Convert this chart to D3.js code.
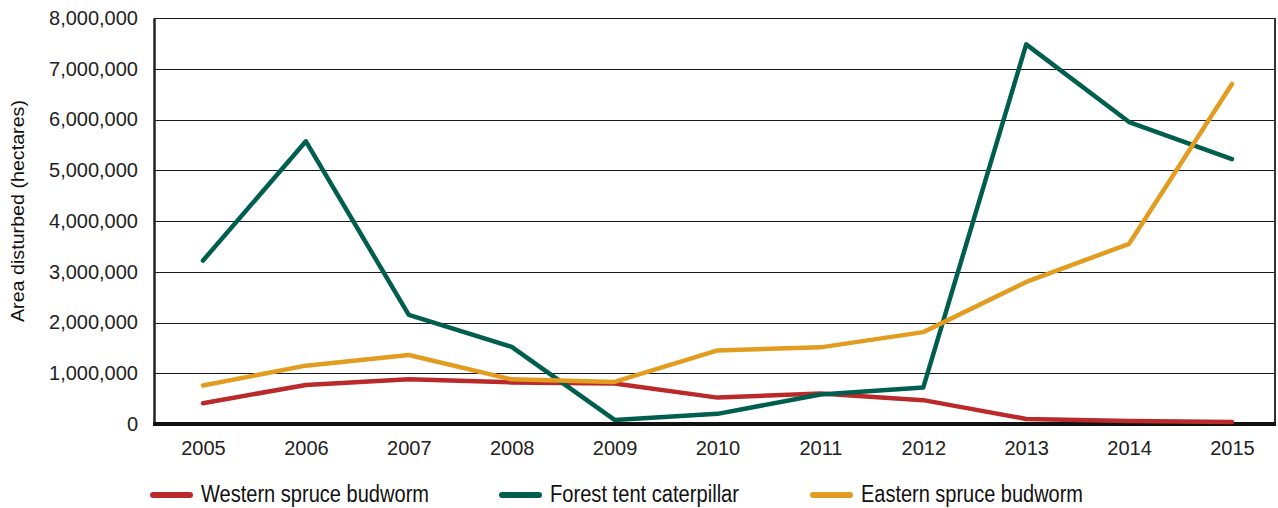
<!DOCTYPE html>
<html>
<head>
<meta charset="utf-8">
<script src="https://cdn.jsdelivr.net/npm/d3@7"></script>
<style>
  body { margin: 0; background: #fff; }
  svg { display: block; }
  .tick text { font-family: "Liberation Sans", Arial, sans-serif; fill: #222; }
  .narrow { font-family: "Liberation Sans Narrow", "Liberation Sans", Arial, sans-serif; }
</style>
</head>
<body>
<script>
var width = 1278
var height = 508

var years = ['2005', '2006', '2007', '2008', '2009', '2010', '2011', '2012', '2013', '2014', '2015']
var western = [410000, 770000, 880000, 820000, 800000, 520000, 600000, 470000, 100000, 60000, 40000]
var forestTent = [3220000, 5570000, 2150000, 1520000, 80000, 200000, 580000, 720000, 7480000, 5950000, 5220000]
var eastern = [760000, 1150000, 1360000, 880000, 830000, 1450000, 1510000, 1810000, 2800000, 3550000, 6700000]
var yTicks = [0, 1000000, 2000000, 3000000, 4000000, 5000000, 6000000, 7000000, 8000000]

var seriesNames = ['Western spruce budworm', 'Forest tent caterpillar', 'Eastern spruce budworm']
var seriesColors = ['#bb2a2b', '#005e4e', '#e29d21']
var seriesData = [western, forestTent, eastern]

var plot = { left: 154, right: 1275, top: 18, bottom: 424 }

var svg = d3.select('body').append('svg')
  .attr('width', width)
  .attr('height', height)

var xScale = d3.scalePoint()
  .domain(years)
  .range([203, 1232])

var yScale = d3.scaleLinear()
  .domain([0, 8000000])
  .range([plot.bottom, plot.top])

// gridlines
svg.append('g')
  .selectAll('line')
  .data(yTicks.slice(1))
  .enter().append('line')
  .attr('x1', plot.left)
  .attr('x2', plot.right)
  .attr('y1', d => Math.round(yScale(d)) + 0.5)
  .attr('y2', d => Math.round(yScale(d)) + 0.5)
  .attr('stroke', '#1a1a1a')
  .attr('stroke-width', 1)

// right border
svg.append('line')
  .attr('x1', plot.right).attr('x2', plot.right)
  .attr('y1', plot.top).attr('y2', plot.bottom)
  .attr('stroke', '#333').attr('stroke-width', 2)

// y axis
var yAxis = d3.axisLeft(yScale)
  .tickValues(yTicks)
  .tickSize(0)
  .tickPadding(16)
  .tickFormat(d3.format(','))

svg.append('g')
  .attr('transform', 'translate(' + [plot.left, 0] + ')')
  .call(yAxis)
  .call(g => g.select('.domain').attr('stroke', '#222').attr('stroke-width', 2.5))
  .selectAll('text').attr('font-size', 20)

// x axis
var xAxis = d3.axisBottom(xScale)
  .tickSize(0)
  .tickPadding(17)

svg.append('g')
  .attr('transform', 'translate(' + [0, plot.bottom] + ')')
  .call(xAxis)
  .call(g => g.select('.domain')
    .attr('d', 'M' + (plot.left - 1) + ',0H' + (plot.right + 1))
    .attr('stroke', '#111').attr('stroke-width', 4))
  .selectAll('text').attr('font-size', 20)

// y axis title (condensed look via textLength)
svg.append('text')
  .attr('class', 'narrow')
  .attr('transform', 'translate(24,211) rotate(-90)')
  .attr('text-anchor', 'middle')
  .attr('font-size', 18)
  .attr('textLength', 222)
  .attr('lengthAdjust', 'spacingAndGlyphs')
  .attr('fill', '#111')
  .text('Area disturbed (hectares)')

// lines
var line = d3.line()
  .x((d, i) => xScale(years[i]))
  .y(d => yScale(d))

svg.append('g')
  .selectAll('path')
  .data(seriesData)
  .enter().append('path')
  .attr('d', d => line(d))
  .attr('fill', 'none')
  .attr('stroke', (d, i) => seriesColors[i])
  .attr('stroke-width', 4.5)
  .attr('stroke-linecap', 'round')
  .attr('stroke-linejoin', 'round')

// legend
var legendX = [150, 499, 810]
var legendTextLen = [228, 189, 222]
var legend = svg.append('g')
  .selectAll('g')
  .data(seriesNames)
  .enter().append('g')
  .attr('transform', (d, i) => 'translate(' + [legendX[i], 495] + ')')

legend.append('line')
  .attr('x1', 3).attr('x2', 40)
  .attr('stroke', (d, i) => seriesColors[i])
  .attr('stroke-width', 6)
  .attr('stroke-linecap', 'round')

legend.append('text')
  .attr('class', 'narrow')
  .attr('x', 51)
  .attr('y', -1)
  .attr('dy', '0.36em')
  .attr('font-size', 23)
  .attr('textLength', (d, i) => legendTextLen[i])
  .attr('lengthAdjust', 'spacingAndGlyphs')
  .attr('fill', '#111')
  .text(d => d)
</script>
</body>
</html>
